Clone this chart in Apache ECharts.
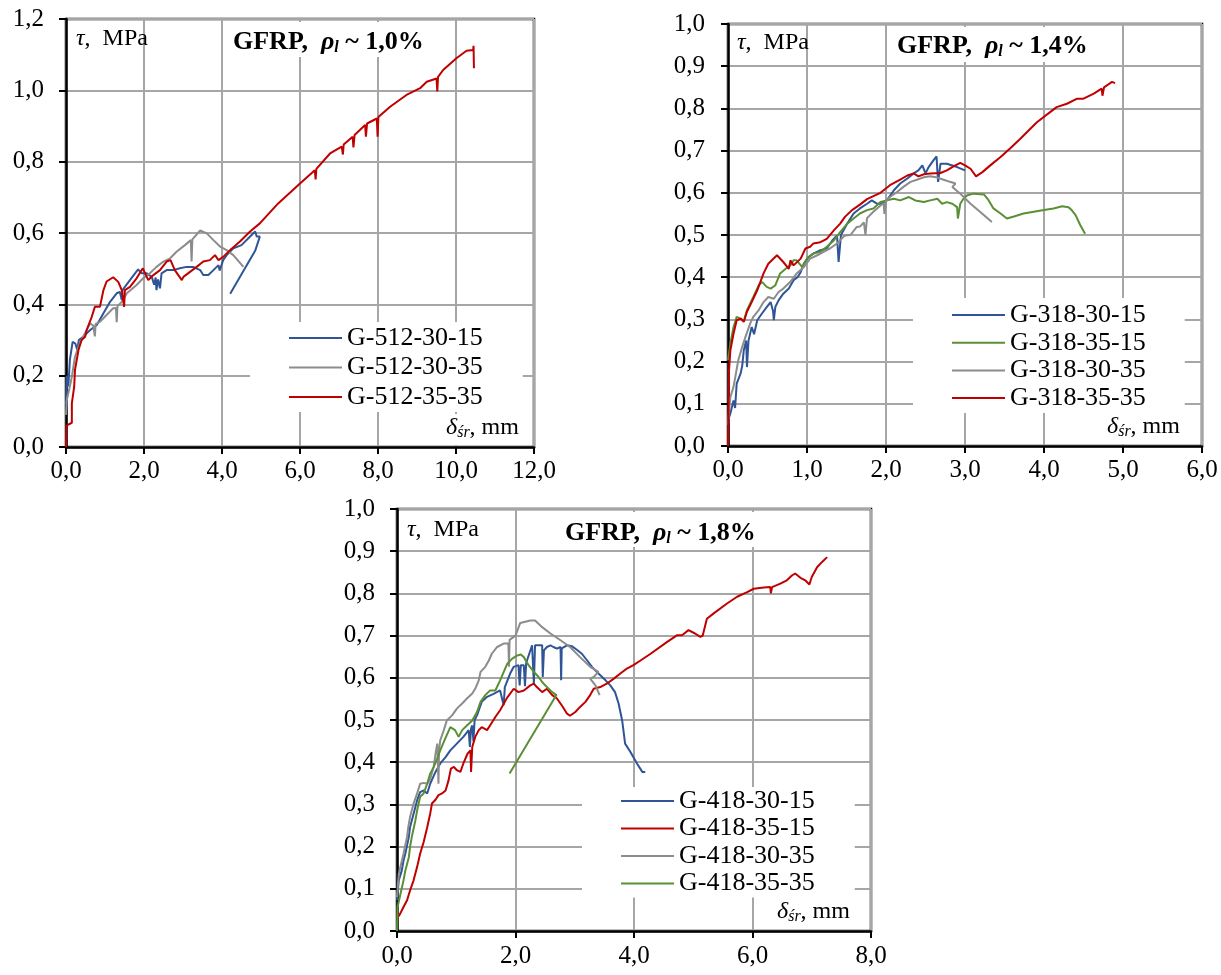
<!DOCTYPE html>
<html>
<head>
<meta charset="utf-8">
<script src="https://cdn.jsdelivr.net/npm/echarts@6/dist/echarts.min.js"></script>
<style>
html,body{margin:0;padding:0;background:#fff;}
#c{width:1221px;height:975px;}
</style>
</head>
<body>
<div id="c"></div>
<script>
// ---------- DATA (δ in mm, τ in MPa) ----------
// Chart 1: GFRP, ρl ~ 1,0%
const G512_30_15 = [[0,0.12],[0.02,0.2],[0.06,0.17],[0.10,0.245],[0.17,0.295],[0.24,0.29],[0.29,0.272],[0.33,0.30],[0.44,0.309],[0.62,0.328],[0.79,0.342],[0.96,0.375],[1.13,0.407],[1.30,0.431],[1.38,0.435],[1.43,0.412],[1.45,0.44],[1.51,0.449],[1.64,0.468],[1.77,0.487],[1.85,0.498],[1.94,0.487],[2.07,0.487],[2.20,0.477],[2.26,0.455],[2.30,0.475],[2.32,0.44],[2.36,0.47],[2.41,0.445],[2.45,0.487],[2.58,0.496],[2.75,0.496],[2.92,0.501],[3.09,0.505],[3.26,0.505],[3.44,0.496],[3.52,0.482],[3.65,0.482],[3.78,0.496],[3.91,0.51],[3.94,0.495],[4.03,0.524],[4.12,0.538],[4.29,0.557],[4.50,0.566],[4.72,0.59],[4.85,0.604],[4.89,0.59],[4.97,0.59],[4.85,0.55],[4.21,0.43]];
const G512_30_35 = [[0,0.09],[0.02,0.132],[0.10,0.17],[0.15,0.197],[0.23,0.253],[0.32,0.281],[0.44,0.309],[0.62,0.347],[0.70,0.34],[0.74,0.31],[0.76,0.345],[0.87,0.351],[1.04,0.37],[1.21,0.389],[1.28,0.39],[1.30,0.35],[1.32,0.395],[1.43,0.407],[1.56,0.431],[1.81,0.454],[1.98,0.473],[2.15,0.487],[2.32,0.505],[2.50,0.52],[2.67,0.529],[2.84,0.548],[3.05,0.566],[3.20,0.58],[3.22,0.52],[3.24,0.582],[3.44,0.607],[3.61,0.599],[3.78,0.58],[3.95,0.562],[4.12,0.552],[4.29,0.538],[4.55,0.505]];
const G512_35_35 = [[0,0],[0.01,0.06],[0.15,0.068],[0.15,0.122],[0.21,0.169],[0.23,0.216],[0.32,0.272],[0.40,0.30],[0.49,0.309],[0.53,0.328],[0.66,0.365],[0.74,0.393],[0.87,0.393],[0.96,0.44],[1.04,0.464],[1.21,0.476],[1.34,0.463],[1.43,0.44],[1.49,0.393],[1.51,0.44],[1.64,0.449],[1.81,0.473],[1.97,0.501],[2.05,0.482],[2.11,0.468],[2.24,0.482],[2.41,0.496],[2.58,0.52],[2.68,0.524],[2.79,0.496],[2.97,0.468],[3.01,0.477],[3.18,0.491],[3.35,0.505],[3.52,0.52],[3.69,0.524],[3.82,0.538],[3.91,0.524],[4.03,0.533],[4.21,0.552],[4.46,0.576],[4.72,0.604],[4.97,0.627],[5.44,0.683],[6.0,0.739],[6.38,0.776],[6.40,0.75],[6.42,0.78],[6.77,0.823],[7.07,0.842],[7.10,0.82],[7.12,0.848],[7.35,0.87],[7.37,0.84],[7.40,0.875],[7.67,0.903],[7.69,0.87],[7.72,0.907],[7.97,0.921],[7.99,0.87],[8.01,0.925],[8.31,0.954],[8.73,0.987],[9.08,1.006],[9.25,1.024],[9.50,1.033],[9.52,0.997],[9.54,1.038],[9.67,1.057],[10.01,1.09],[10.27,1.111],[10.44,1.113],[10.45,1.125],[10.46,1.062]];

// Chart 2: GFRP, ρl ~ 1,4%
const G318_30_15 = [[0,0.06],[0.03,0.077],[0.07,0.108],[0.09,0.09],[0.11,0.148],[0.16,0.172],[0.18,0.19],[0.20,0.227],[0.23,0.25],[0.24,0.187],[0.26,0.25],[0.30,0.282],[0.33,0.265],[0.37,0.298],[0.43,0.314],[0.49,0.329],[0.54,0.341],[0.57,0.32],[0.58,0.298],[0.60,0.33],[0.64,0.345],[0.70,0.361],[0.77,0.373],[0.83,0.393],[0.88,0.40],[0.92,0.412],[0.96,0.432],[1.02,0.448],[1.08,0.456],[1.17,0.464],[1.25,0.468],[1.32,0.487],[1.38,0.499],[1.40,0.436],[1.43,0.50],[1.51,0.527],[1.59,0.551],[1.67,0.563],[1.76,0.574],[1.82,0.582],[1.89,0.574],[1.93,0.574],[2.01,0.582],[2.10,0.606],[2.18,0.622],[2.27,0.634],[2.35,0.646],[2.41,0.653],[2.46,0.665],[2.50,0.646],[2.54,0.661],[2.60,0.677],[2.64,0.686],[2.65,0.653],[2.66,0.626],[2.69,0.669],[2.77,0.669],[2.90,0.661],[3.00,0.653]];
const G318_35_15 = [[0,0.203],[0.03,0.243],[0.07,0.282],[0.11,0.306],[0.16,0.302],[0.20,0.296],[0.24,0.322],[0.32,0.353],[0.39,0.381],[0.43,0.389],[0.49,0.377],[0.54,0.373],[0.60,0.381],[0.66,0.409],[0.73,0.42],[0.79,0.428],[0.83,0.44],[0.87,0.44],[0.94,0.424],[1.00,0.444],[1.08,0.456],[1.17,0.46],[1.25,0.472],[1.34,0.487],[1.42,0.507],[1.51,0.527],[1.59,0.539],[1.67,0.551],[1.76,0.559],[1.84,0.563],[1.93,0.578],[2.01,0.582],[2.10,0.586],[2.18,0.582],[2.29,0.59],[2.37,0.582],[2.48,0.578],[2.56,0.582],[2.65,0.586],[2.71,0.574],[2.77,0.578],[2.84,0.574],[2.90,0.566],[2.91,0.539],[2.94,0.574],[2.98,0.586],[3.03,0.594],[3.11,0.598],[3.24,0.596],[3.30,0.582],[3.36,0.563],[3.45,0.551],[3.53,0.539],[3.62,0.544],[3.74,0.551],[4.00,0.559],[4.12,0.563],[4.23,0.568],[4.31,0.566],[4.35,0.559],[4.40,0.547],[4.46,0.523],[4.52,0.503]];
const G318_30_35 = [[0,0.05],[0.01,0.077],[0.03,0.116],[0.07,0.14],[0.13,0.203],[0.18,0.235],[0.22,0.258],[0.28,0.29],[0.32,0.306],[0.39,0.322],[0.45,0.341],[0.51,0.353],[0.58,0.349],[0.64,0.365],[0.70,0.373],[0.79,0.389],[0.87,0.409],[0.96,0.424],[1.04,0.444],[1.13,0.452],[1.21,0.46],[1.29,0.468],[1.38,0.48],[1.48,0.499],[1.55,0.50],[1.57,0.503],[1.63,0.519],[1.67,0.52],[1.72,0.53],[1.74,0.50],[1.76,0.54],[1.84,0.555],[1.93,0.57],[1.97,0.575],[1.98,0.55],[2.0,0.58],[2.05,0.59],[2.14,0.602],[2.22,0.614],[2.31,0.626],[2.39,0.631],[2.48,0.637],[2.56,0.639],[2.65,0.636],[2.73,0.631],[2.81,0.626],[2.88,0.622],[2.84,0.614],[2.94,0.598],[3.07,0.574],[3.19,0.555],[3.34,0.531]];
const G318_35_35 = [[0,0],[0.005,0.06],[0.01,0.17],[0.03,0.227],[0.07,0.266],[0.11,0.298],[0.16,0.302],[0.20,0.294],[0.24,0.318],[0.30,0.341],[0.37,0.369],[0.41,0.389],[0.45,0.409],[0.51,0.432],[0.62,0.452],[0.70,0.436],[0.77,0.42],[0.79,0.44],[0.83,0.428],[0.92,0.444],[0.98,0.468],[1.04,0.472],[1.08,0.48],[1.17,0.483],[1.25,0.491],[1.34,0.511],[1.42,0.527],[1.48,0.543],[1.57,0.559],[1.67,0.572],[1.76,0.585],[1.84,0.592],[1.93,0.60],[2.05,0.618],[2.18,0.631],[2.27,0.641],[2.35,0.646],[2.41,0.639],[2.48,0.644],[2.56,0.646],[2.69,0.647],[2.77,0.653],[2.86,0.663],[2.94,0.671],[3.00,0.665],[3.07,0.657],[3.14,0.639],[3.22,0.649],[3.32,0.665],[3.45,0.685],[3.57,0.705],[3.70,0.728],[3.91,0.767],[4.16,0.803],[4.29,0.811],[4.42,0.823],[4.50,0.823],[4.63,0.835],[4.73,0.847],[4.74,0.83],[4.76,0.85],[4.80,0.855],[4.86,0.863],[4.90,0.86]];

// Chart 3: GFRP, ρl ~ 1,8%
const G418_30_15 = [[0,0.073],[0.03,0.12],[0.08,0.143],[0.11,0.167],[0.14,0.183],[0.20,0.223],[0.22,0.246],[0.28,0.278],[0.34,0.31],[0.39,0.329],[0.45,0.333],[0.51,0.326],[0.56,0.349],[0.65,0.377],[0.73,0.397],[0.82,0.412],[0.90,0.428],[1.01,0.444],[1.12,0.46],[1.21,0.476],[1.23,0.436],[1.25,0.48],[1.27,0.487],[1.29,0.45],[1.31,0.50],[1.35,0.511],[1.43,0.543],[1.52,0.555],[1.63,0.562],[1.74,0.57],[1.80,0.535],[1.82,0.578],[1.91,0.61],[1.97,0.626],[2.05,0.63],[2.07,0.582],[2.09,0.63],[2.14,0.63],[2.16,0.58],[2.18,0.635],[2.28,0.677],[2.30,0.677],[2.31,0.586],[2.33,0.677],[2.45,0.677],[2.46,0.602],[2.48,0.665],[2.53,0.673],[2.59,0.677],[2.64,0.673],[2.70,0.669],[2.76,0.673],[2.77,0.594],[2.78,0.67],[2.87,0.677],[2.95,0.675],[3.04,0.666],[3.12,0.657],[3.21,0.641],[3.29,0.626],[3.40,0.61],[3.52,0.594],[3.60,0.582],[3.68,0.566],[3.74,0.539],[3.80,0.499],[3.85,0.444],[3.94,0.424],[4.05,0.397],[4.14,0.377],[4.19,0.377]];
const G418_35_15 = [[0,0.03],[0.05,0.04],[0.11,0.057],[0.17,0.073],[0.22,0.096],[0.28,0.12],[0.34,0.152],[0.39,0.183],[0.45,0.211],[0.51,0.246],[0.56,0.278],[0.59,0.302],[0.65,0.311],[0.70,0.322],[0.76,0.326],[0.82,0.333],[0.87,0.357],[0.91,0.385],[0.96,0.389],[1.01,0.381],[1.07,0.377],[1.12,0.397],[1.19,0.42],[1.24,0.428],[1.25,0.377],[1.27,0.436],[1.32,0.46],[1.38,0.476],[1.43,0.483],[1.52,0.476],[1.57,0.487],[1.66,0.507],[1.74,0.523],[1.86,0.553],[1.97,0.574],[2.05,0.566],[2.14,0.57],[2.25,0.582],[2.31,0.586],[2.36,0.578],[2.45,0.566],[2.53,0.574],[2.62,0.559],[2.70,0.551],[2.78,0.535],[2.87,0.515],[2.92,0.51],[3.01,0.519],[3.09,0.531],[3.18,0.543],[3.26,0.559],[3.32,0.574],[3.43,0.578],[3.54,0.586],[3.66,0.598],[3.77,0.61],[3.88,0.622],[3.99,0.63],[4.11,0.641],[4.28,0.657],[4.56,0.685],[4.73,0.701],[4.81,0.701],[4.92,0.713],[5.03,0.705],[5.12,0.697],[5.16,0.70],[5.23,0.74],[5.34,0.752],[5.57,0.776],[5.74,0.792],[5.91,0.803],[6.02,0.811],[6.19,0.814],[6.30,0.815],[6.31,0.80],[6.33,0.815],[6.47,0.823],[6.58,0.831],[6.67,0.843],[6.72,0.847],[6.81,0.837],[6.89,0.831],[6.96,0.821],[7.00,0.839],[7.09,0.862],[7.17,0.874],[7.26,0.886]];
const G418_30_35 = [[0,0.08],[0.03,0.136],[0.11,0.183],[0.17,0.223],[0.19,0.246],[0.22,0.27],[0.28,0.302],[0.34,0.326],[0.39,0.349],[0.45,0.351],[0.51,0.349],[0.56,0.36],[0.62,0.389],[0.65,0.42],[0.68,0.444],[0.70,0.349],[0.71,0.43],[0.73,0.452],[0.79,0.476],[0.84,0.499],[0.93,0.511],[1.01,0.527],[1.10,0.539],[1.18,0.551],[1.27,0.563],[1.32,0.574],[1.38,0.594],[1.41,0.614],[1.49,0.626],[1.55,0.641],[1.60,0.657],[1.69,0.673],[1.80,0.681],[1.88,0.681],[1.89,0.626],[1.90,0.69],[2.00,0.70],[2.08,0.73],[2.25,0.736],[2.33,0.736],[2.45,0.72],[2.59,0.705],[2.76,0.689],[2.92,0.673],[3.09,0.649],[3.26,0.626],[3.40,0.614],[3.32,0.602],[3.26,0.598],[3.35,0.582],[3.42,0.559]];
const G418_35_35 = [[0,0],[0.01,0.057],[0.06,0.089],[0.11,0.12],[0.14,0.143],[0.20,0.175],[0.22,0.199],[0.25,0.223],[0.31,0.262],[0.34,0.286],[0.39,0.318],[0.45,0.326],[0.51,0.349],[0.56,0.373],[0.62,0.389],[0.68,0.409],[0.73,0.428],[0.79,0.448],[0.84,0.464],[0.90,0.483],[0.93,0.487],[0.98,0.476],[1.04,0.46],[1.10,0.476],[1.18,0.487],[1.27,0.499],[1.35,0.519],[1.41,0.543],[1.49,0.559],[1.57,0.57],[1.66,0.57],[1.74,0.594],[1.86,0.633],[1.94,0.645],[2.03,0.653],[2.09,0.655],[2.14,0.649],[2.22,0.63],[2.31,0.614],[2.39,0.602],[2.45,0.59],[2.53,0.578],[2.62,0.566],[2.69,0.559],[1.90,0.373]];

// Axis ranges / ticks
const X1 = {min:0, max:12, interval:2};
const Y1 = {min:0, max:1.2, interval:0.2};
const X2 = {min:0, max:6, interval:1};
const Y2 = {min:0, max:1.0, interval:0.1};
const X3 = {min:0, max:8, interval:2};
const Y3 = {min:0, max:1.0, interval:0.1};

const TITLES = ['1,0%', '1,4%', '1,8%'];

// ---------- STYLE ----------
const FONT = '"Liberation Serif","Times New Roman",Times,serif';
const BLUE = '#2F5597', GRAY = '#8C8C8C', RED = '#C00000', GREEN = '#5A8F35';
const fmt = v => Number(v).toFixed(1).replace('.', ',');

const grids = [
  {left:66, top:19, width:468, height:428},
  {left:728, top:24, width:474, height:422},
  {left:397, top:509, width:474, height:422}
].map(g => Object.assign(g, {show:true, borderColor:'#000', borderWidth:2.5, backgroundColor:'rgba(0,0,0,0)'}));

function axisCommon(idx, r, margin){
  return Object.assign({
    type:'value', gridIndex:idx,
    axisLine:{show:true, onZero:false, lineStyle:{color:'#000', width:2.5}},
    axisTick:{show:true, inside:false, length:7, lineStyle:{color:'#000', width:2}},
    axisLabel:{formatter:fmt, fontFamily:FONT, fontSize:25, color:'#000', margin:margin, showMinLabel:true, showMaxLabel:true},
    splitLine:{show:true, lineStyle:{color:'#A6A6A6', width:2}}
  }, r);
}

const xAxes = [axisCommon(0,X1,12), axisCommon(1,X2,12), axisCommon(2,X3,13)];
const yAxes = [axisCommon(0,Y1,22), axisCommon(1,Y2,23), axisCommon(2,Y3,22)];

function line(name, data, color, gi){
  return {type:'line', name:name, data:data, xAxisIndex:gi, yAxisIndex:gi,
    showSymbol:false, symbol:'none', lineStyle:{width:2, color:color}, itemStyle:{color:color}};
}
const series = [
  line('G-512-30-15', G512_30_15, BLUE, 0),
  line('G-512-30-35', G512_30_35, GRAY, 0),
  line('G-512-35-35', G512_35_35, RED, 0),
  line('G-318-30-15', G318_30_15, BLUE, 1),
  line('G-318-35-15', G318_35_15, GREEN, 1),
  line('G-318-30-35', G318_30_35, GRAY, 1),
  line('G-318-35-35', G318_35_35, RED, 1),
  line('G-418-30-15', G418_30_15, BLUE, 2),
  line('G-418-35-15', G418_35_15, RED, 2),
  line('G-418-30-35', G418_30_35, GRAY, 2),
  line('G-418-35-35', G418_35_35, GREEN, 2)
];

function legend(names, left, top, pad, gap){
  return {data:names, orient:'vertical', left:left, top:top, padding:pad, itemGap:gap,
    backgroundColor:'#fff', icon:'rect', itemWidth:53, itemHeight:2, selectedMode:false,
    textStyle:{fontFamily:FONT, fontSize:26, color:'#000', lineHeight:26}};
}
const legends = [
  legend(['G-512-30-15','G-512-30-35','G-512-35-35'], 250, 322, [3,40,2,39], 3.5),
  legend(['G-318-30-15','G-318-35-15','G-318-30-35','G-318-35-35'], 913, 298, [4,39,2,39], 1.7),
  legend(['G-418-30-15','G-418-35-15','G-418-30-35','G-418-35-35'], 582, 787, [1,40,1,39], 1.5)
];

const rich = {
  b:{fontFamily:FONT, fontSize:26, fontWeight:'bold', fontStyle:'normal', color:'#000', lineHeight:28},
  r:{fontFamily:FONT, fontSize:26, fontWeight:'bold', fontStyle:'italic', color:'#000', lineHeight:28},
  s:{fontFamily:FONT, fontSize:16, fontWeight:'bold', fontStyle:'italic', color:'#000', lineHeight:15, verticalAlign:'bottom'},
  i:{fontFamily:FONT, fontSize:24, fontWeight:'normal', fontStyle:'italic', color:'#000', lineHeight:26},
  t:{fontFamily:FONT, fontSize:24, fontWeight:'normal', fontStyle:'normal', color:'#000', lineHeight:26},
  u:{fontFamily:FONT, fontSize:16, fontWeight:'normal', fontStyle:'italic', color:'#000', lineHeight:14, verticalAlign:'bottom'}
};
function ttl(text, left, top, pad, bg){
  return {text:text, left:left, top:top, padding:pad, backgroundColor:bg||'rgba(0,0,0,0)', itemGap:0,
    textStyle:{rich:rich, fontFamily:FONT, fontSize:24, fontWeight:'normal', color:'#000'}};
}
const titles = [
  ttl('{b|GFRP,  }{r|ρ}{s|l}{b| ~ ' + TITLES[0] + '}', 227, 21, [7,8,1,6], '#fff'),
  ttl('{b|GFRP,  }{r|ρ}{s|l}{b| ~ ' + TITLES[1] + '}', 891, 26, [6,8,2,6], '#fff'),
  ttl('{b|GFRP,  }{r|ρ}{s|l}{b| ~ ' + TITLES[2] + '}', 559, 511, [8,8,0,6], '#fff'),
  ttl('{i|τ}{t|,  MPa}', 76, 25.5, 0),
  ttl('{i|τ}{t|,  MPa}', 737, 29.5, 0),
  ttl('{i|τ}{t|,  MPa}', 407, 517, 0),
  ttl('{i|δ}{u|śr}{t|, mm}', 440, 413, [2,8,4,6], '#fff'),
  ttl('{i|δ}{u|śr}{t|, mm}', 1101, 412, [2,8,4,6], '#fff'),
  ttl('{i|δ}{u|śr}{t|, mm}', 771, 897, [2,8,4,6], '#fff')
];

const chart = echarts.init(document.getElementById('c'), null, {renderer:'canvas'});
chart.setOption({
  animation:false,
  backgroundColor:'#fff',
  grid:grids, xAxis:xAxes, yAxis:yAxes,
  series:series, legend:legends, title:titles
});
</script>
</body>
</html>
